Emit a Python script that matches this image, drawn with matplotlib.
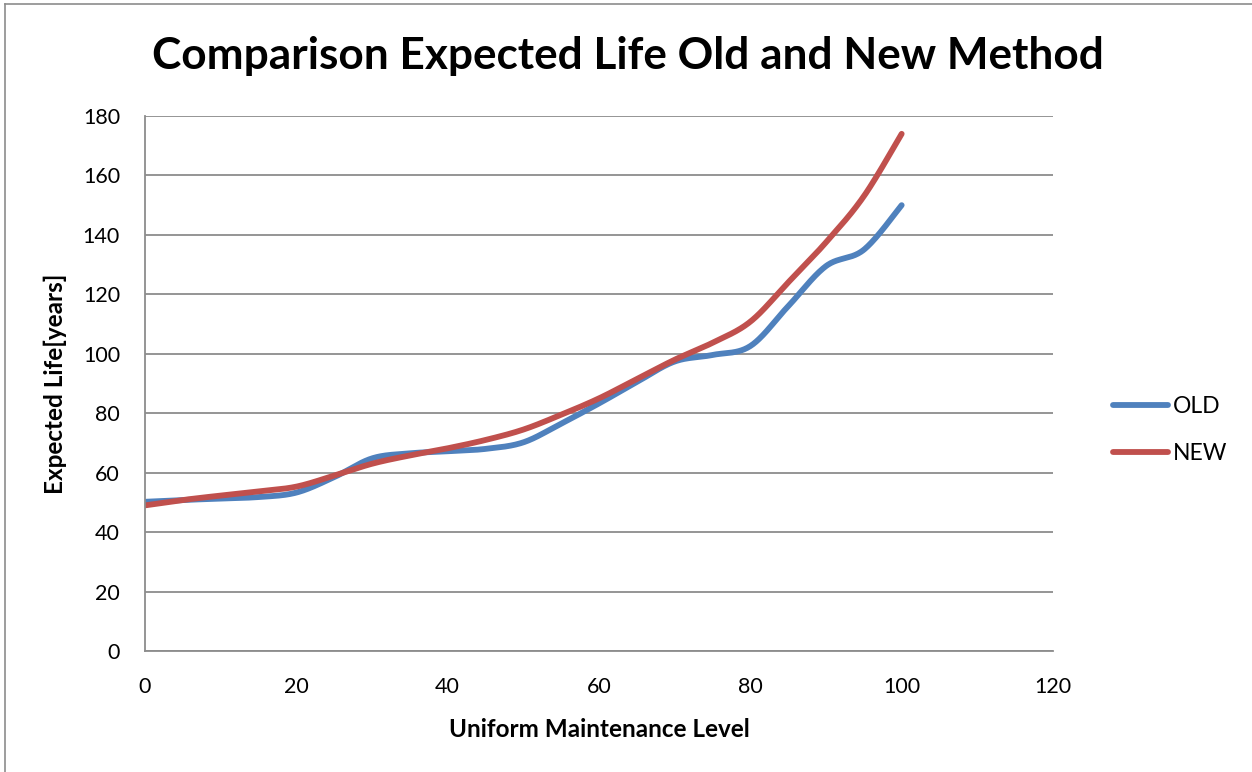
import numpy as np
import matplotlib
matplotlib.use("Agg")
import matplotlib.pyplot as plt
from matplotlib.lines import Line2D

# ---- data ----
x_levels = [0, 5, 10, 15, 20, 25, 30, 35, 40, 45, 50, 55, 60, 65, 70, 75, 80, 85, 90, 95, 100]
old_life = [50.2, 50.8, 51.3, 51.8, 53.3, 58.5, 64.8, 66.5, 67.2, 68.0, 70.2, 76.5, 83.3,
            90.5, 97.4, 99.6, 102.6, 116.0, 129.5, 135.0, 150.0]
new_life = [49.0, 50.8, 52.3, 53.7, 55.3, 59.0, 63.0, 65.8, 68.2, 71.0, 74.5, 79.5, 85.0,
            91.5, 98.0, 103.7, 110.8, 124.0, 137.5, 153.0, 174.0]
series_names = ["OLD", "NEW"]
series_colors = ["#4F81BD", "#C0504D"]
x_ticks = [0, 20, 40, 60, 80, 100, 120]
y_ticks = [0, 20, 40, 60, 80, 100, 120, 140, 160, 180]
title = "Comparison Expected Life Old and New Method"
xlabel = "Uniform Maintenance Level"
ylabel = "Expected Life[years]"


def smooth(xs, ys, n=40):
    """Excel-style smoothing: Catmull-Rom converted to cubic Bezier segments."""
    xs = np.asarray(xs, float)
    ys = np.asarray(ys, float)
    P = np.column_stack([xs, ys])
    out = []
    m = len(P)
    t = np.linspace(0, 1, n)[:, None]
    for i in range(m - 1):
        p0 = P[i - 1] if i > 0 else P[i]
        p1 = P[i]
        p2 = P[i + 1]
        p3 = P[i + 2] if i + 2 < m else P[i + 1]
        c1 = p1 + (p2 - p0) / 6.0
        c2 = p2 - (p3 - p1) / 6.0
        seg = ((1 - t) ** 3) * p1 + 3 * ((1 - t) ** 2) * t * c1 + 3 * (1 - t) * t ** 2 * c2 + t ** 3 * p2
        out.append(seg if i == 0 else seg[1:])
    arr = np.vstack(out)
    return arr[:, 0], arr[:, 1]


plt.rcParams['font.family'] = ['Lato', 'DejaVu Sans']

W, H = 1252, 772
fig = plt.figure(figsize=(W / 100, H / 100), dpi=100)
fig.patch.set_facecolor("white")

# outer chart border
fig.add_artist(Line2D([5 / W, 5 / W], [0, 1 - 4 / H], transform=fig.transFigure, color="#8c8c8c", lw=1.2))
fig.add_artist(Line2D([5 / W, 1], [1 - 4 / H, 1 - 4 / H], transform=fig.transFigure, color="#8c8c8c", lw=1.2))

ax = fig.add_axes([145 / W, 1 - 651 / H, (1053 - 145) / W, (651 - 116) / H])
ax.set_xlim(0, 120)
ax.set_ylim(0, 180)
ax.set_xticks(x_ticks)
ax.set_yticks(y_ticks)
ax.grid(axis="y", color="#8c8c8c", lw=1.3)
ax.set_axisbelow(True)
for s in ["top", "right"]:
    ax.spines[s].set_visible(False)
for s in ["left", "bottom"]:
    ax.spines[s].set_color("#8c8c8c")
    ax.spines[s].set_linewidth(1.3)
ax.tick_params(length=0, labelsize=15.5)
ax.tick_params(axis="y", pad=18)
ax.tick_params(axis="x", pad=19)

handles = []
for ys, name, col in zip([old_life, new_life], series_names, series_colors):
    sx, sy = smooth(x_levels, ys)
    h, = ax.plot(sx, sy, color=col, lw=4.2, solid_capstyle="round", label=name)
    handles.append(h)

ax.set_xlabel(xlabel, fontsize=17.5, fontweight="bold", labelpad=15)
ax.set_ylabel(ylabel, fontsize=17.5, fontweight="bold", labelpad=11)

fig.text(628 / W, 1 - 56 / H, title, ha="center", va="center", fontsize=31.8, fontweight="bold")

leg = fig.legend(handles=handles, loc="center left", bbox_to_anchor=(1113 / W, 1 - 430 / H),
                 frameon=False, fontsize=16.5, handlelength=2.4, handletextpad=0.22,
                 labelspacing=1.1, borderpad=0, borderaxespad=0)

fig.savefig("out.png", dpi=100)
